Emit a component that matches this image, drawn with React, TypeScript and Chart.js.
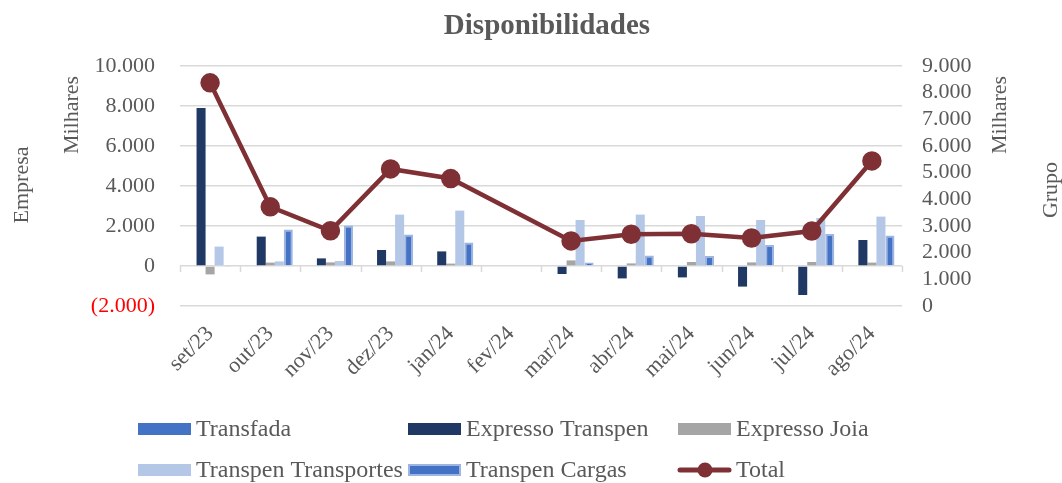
import React, { useEffect, useRef } from "react";
import { Chart, registerables } from "chart.js";

Chart.register(...registerables);

const categories = ["set/23", "out/23", "nov/23", "dez/23", "jan/24", "fev/24", "mar/24", "abr/24", "mai/24", "jun/24", "jul/24", "ago/24"];
const transfada = [0, 0, 0, 0, 0, null, 0, 0, 0, 0, 0, 0];
const expressoTranspen = [7900, 1470, 380, 800, 730, null, -400, -620, -570, -1030, -1450, 1300];
const expressoJoia = [-420, 170, 180, 230, 120, null, 280, 130, 200, 180, 200, 170];
const transpenTransportes = [970, 230, 250, 2570, 2770, null, 2300, 2570, 2500, 2300, 2400, 2470];
const transpenCargas = [-50, 1830, 2020, 1580, 1180, null, 180, 530, 500, 1050, 1600, 1530];
const total = [8370, 3720, 2820, 5140, 4780, null, 2440, 2690, 2710, 2550, 2810, 5440];

const FONT = "'Liberation Serif', 'DejaVu Serif', serif";
const GREY = "#595959";

function fmt(v: number): string {
  const a = Math.abs(Math.round(v));
  const s = a.toString().replace(/\B(?=(\d{3})+(?!\d))/g, ".");
  return v < 0 ? "(" + s + ")" : s;
}

const legendItems = [
  { label: "Transfada", color: "#4472C4", border: null, type: "bar", col: 0, row: 0 },
  { label: "Expresso Transpen", color: "#203864", border: null, type: "bar", col: 1, row: 0 },
  { label: "Expresso Joia", color: "#A5A5A5", border: null, type: "bar", col: 2, row: 0 },
  { label: "Transpen Transportes", color: "#B4C7E7", border: null, type: "bar", col: 0, row: 1 },
  { label: "Transpen Cargas", color: "#4472C4", border: "#9DB5E0", type: "bar", col: 1, row: 1 },
  { label: "Total", color: "#7F3035", border: null, type: "line", col: 2, row: 1 },
];

const decorPlugin = {
  id: "decor",
  afterDraw(chart: any) {
    const ctx = chart.ctx;
    const area = chart.chartArea;
    const y = chart.scales.y;
    ctx.save();
    // tick marks on zero line
    const y0 = y.getPixelForValue(0);
    const n = categories.length;
    const w = (area.right - area.left) / n;
    ctx.strokeStyle = "#D9D9D9";
    ctx.lineWidth = 1.5;
    for (let i = 0; i <= n; i++) {
      const x = Math.round(area.left + i * w) + 0.5;
      ctx.beginPath();
      ctx.moveTo(x, y0);
      ctx.lineTo(x, y0 + 6);
      ctx.stroke();
    }
    // title
    ctx.fillStyle = GREY;
    ctx.font = "bold 29px " + FONT;
    ctx.textAlign = "center";
    ctx.textBaseline = "middle";
    ctx.fillText("Disponibilidades", 547, 27);
    // axis titles
    ctx.font = "22px " + FONT;
    const rot = (text: string, x: number, yy: number) => {
      ctx.save();
      ctx.translate(x, yy);
      ctx.rotate(-Math.PI / 2);
      ctx.textAlign = "center";
      ctx.textBaseline = "middle";
      ctx.fillText(text, 0, 0);
      ctx.restore();
    };
    rot("Empresa", 22, 185);
    rot("Milhares", 72, 115);
    rot("Milhares", 1000, 115);
    rot("Grupo", 1051, 190);
    // legend
    const colX = [138, 408, 678];
    const rowY = [429, 470];
    ctx.font = "24px " + FONT;
    ctx.textAlign = "left";
    ctx.textBaseline = "middle";
    for (const it of legendItems) {
      const x = colX[it.col];
      const yy = rowY[it.row];
      if (it.type === "bar") {
        ctx.fillStyle = it.color;
        ctx.fillRect(x, yy - 6, 53, 12);
        if (it.border) {
          ctx.strokeStyle = it.border;
          ctx.lineWidth = 2;
          ctx.strokeRect(x + 1, yy - 5, 51, 10);
        }
      } else {
        ctx.strokeStyle = it.color;
        ctx.lineWidth = 5;
        ctx.lineCap = "round";
        ctx.beginPath();
        ctx.moveTo(x + 2, yy);
        ctx.lineTo(x + 51, yy);
        ctx.stroke();
        ctx.fillStyle = it.color;
        ctx.beginPath();
        ctx.arc(x + 27, yy, 7.5, 0, Math.PI * 2);
        ctx.fill();
      }
      ctx.fillStyle = GREY;
      ctx.fillText(it.label, x + 58, yy + 1);
    }
    ctx.restore();
  },
};

export default function App() {
  const ref = useRef<HTMLCanvasElement | null>(null);
  useEffect(() => {
    if (!ref.current) return;
    const barCommon = { yAxisID: "y", categoryPercentage: 0.75, barPercentage: 1, order: 2 };
    const chart = new Chart(ref.current, {
      type: "bar",
      data: {
        labels: categories,
        datasets: [
          { ...barCommon, label: "Transfada", data: transfada, backgroundColor: "#4472C4" },
          { ...barCommon, label: "Expresso Transpen", data: expressoTranspen, backgroundColor: "#203864" },
          { ...barCommon, label: "Expresso Joia", data: expressoJoia, backgroundColor: "#A5A5A5" },
          { ...barCommon, label: "Transpen Transportes", data: transpenTransportes, backgroundColor: "#B4C7E7" },
          { ...barCommon, label: "Transpen Cargas", data: transpenCargas, backgroundColor: "#4472C4", borderColor: "#9DB5E0", borderWidth: 2 },
          {
            type: "line",
            label: "Total",
            data: total,
            yAxisID: "y1",
            borderColor: "#7F3035",
            backgroundColor: "#7F3035",
            borderWidth: 4.5,
            pointRadius: 7.5,
            pointBackgroundColor: "#7F3035",
            pointBorderColor: "#7F3035",
            spanGaps: true,
            tension: 0,
            order: 0,
          } as any,
        ],
      },
      options: {
        responsive: false,
        animation: false,
        layout: { padding: { top: 66, bottom: 0, left: 0, right: 0 } },
        plugins: { legend: { display: false }, title: { display: false }, tooltip: { enabled: false } },
        scales: {
          x: {
            type: "category",
            offset: true,
            grid: { display: false, drawTicks: false },
            border: { display: false },
            ticks: {
              minRotation: 45,
              maxRotation: 45,
              autoSkip: false,
              padding: 15,
              color: GREY,
              font: { family: FONT, size: 22 },
            },
            afterFit: (s: any) => { s.height = 177; },
          },
          y: {
            position: "left",
            min: -2000,
            max: 10000,
            ticks: {
              stepSize: 2000,
              autoSkip: false,
              padding: 25,
              color: (c: any) => (c.tick && c.tick.value < 0 ? "#FF0000" : GREY),
              font: { family: FONT, size: 22 },
              callback: (v: any) => fmt(Number(v)),
            },
            grid: { color: "#D9D9D9", lineWidth: 1.5, drawTicks: false },
            border: { display: false },
            afterFit: (s: any) => { s.width = 180; },
          },
          y1: {
            position: "right",
            min: 0,
            max: 9000,
            ticks: {
              stepSize: 1000,
              autoSkip: false,
              padding: 20,
              color: GREY,
              font: { family: FONT, size: 22 },
              callback: (v: any) => fmt(Number(v)),
            },
            grid: { display: false, drawTicks: false },
            border: { display: false },
            afterFit: (s: any) => { s.width = 160; },
          },
        },
      },
      plugins: [decorPlugin],
    } as any);
    return () => chart.destroy();
  }, []);
  return (
    <div style={{ position: "absolute", left: 0, top: 0, width: 1062, height: 483, background: "#fff" }}>
      <canvas ref={ref} width={1062} height={483} style={{ display: "block" }} />
    </div>
  );
}
